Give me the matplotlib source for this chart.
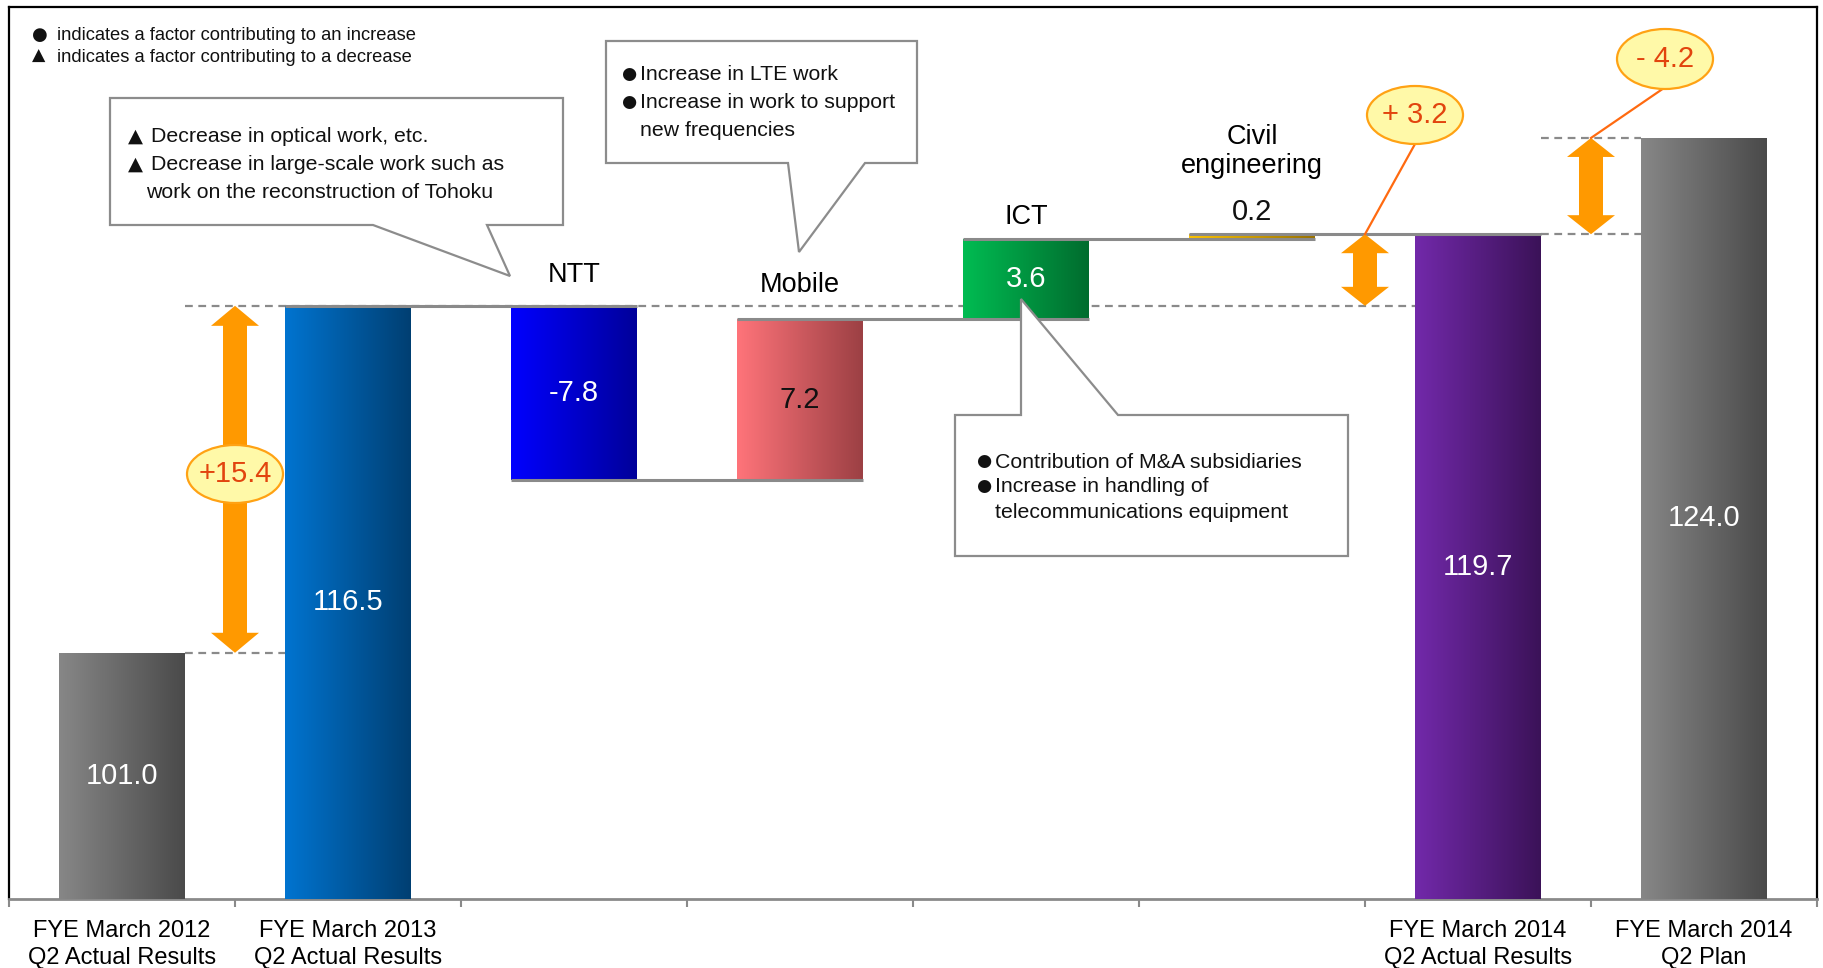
import numpy as np
import matplotlib
matplotlib.use("Agg")
import matplotlib.pyplot as plt
from matplotlib.patches import Polygon, Ellipse
from matplotlib.lines import Line2D
from matplotlib.colors import LinearSegmentedColormap

plt.rcParams['font.family'] = ['Liberation Sans', 'DejaVu Sans']

# ---------------- data ----------------
tick_labels = ["FYE March 2012\nQ2 Actual Results", "FYE March 2013\nQ2 Actual Results",
               "", "", "", "",
               "FYE March 2014\nQ2 Actual Results", "FYE March 2014\nQ2 Plan"]
segment_names = ["NTT", "Mobile", "ICT", "Civil\nengineering"]
start_total = 101.0
prior_total = 116.5
segment_changes = [-7.8, 7.2, 3.6, 0.2]
actual_total = 119.7
plan_total = 124.0
value_labels = ["101.0", "116.5", "-7.8", "7.2", "3.6", "0.2", "119.7", "124.0"]
diff_labels = ["+15.4", "+ 3.2", "- 4.2"]

bar_colors = [("#878787", "#4A4A4A"), ("#0074D0", "#003F72"), ("#0000FF", "#00009A"),
              ("#FF747A", "#9C4044"), ("#00BC52", "#006C2E"), ("#FFC400", "#9A7200"),
              ("#7229AA", "#3B1258"), ("#878787", "#4A4A4A")]
label_colors = ["white", "white", "white", "#111111", "white", "#111111", "white", "white"]

# ---------------- figure ----------------
W, H = 1823, 968
fig = plt.figure(figsize=(W / 100, H / 100), dpi=100)
AX_L, AX_R, AX_T, AX_B = 9, 1817, 7, 899
ax = fig.add_axes([AX_L / W, 1 - AX_B / H, (AX_R - AX_L) / W, (AX_B - AX_T) / H])
YMIN, YMAX = 90.0, 129.85
ax.set_xlim(-0.5, 7.5)
ax.set_ylim(YMIN, YMAX)
ppx = (AX_R - AX_L) / 8.0              # pixels per x unit
ppy = (AX_B - AX_T) / (YMAX - YMIN)    # pixels per y unit


def F(x, y):
    return (x / W, 1 - y / H)


def data_to_px(x, y):
    return (AX_L + (x + 0.5) * ppx, AX_B - (y - YMIN) * ppy)


# waterfall geometry (total bars start at the axis floor)
bottoms, heights = [YMIN, YMIN], [start_total - YMIN, prior_total - YMIN]
ends = [start_total, prior_total]
running = prior_total
for ch in segment_changes:
    bottoms.append(min(running, running + ch))
    heights.append(abs(ch))
    running += ch
    ends.append(running)
bottoms += [YMIN, YMIN]
heights += [actual_total - YMIN, plan_total - YMIN]
ends += [actual_total, plan_total]

xs = np.arange(8)
BW = 0.556
bars = ax.bar(xs, heights, bottom=bottoms, width=BW, color="none", linewidth=0, zorder=3)

grad = np.linspace(0, 1, 256).reshape(1, -1)
for b, (c0, c1) in zip(bars, bar_colors):
    cmap = LinearSegmentedColormap.from_list("g", [c0, c1])
    x0 = b.get_x()
    im = ax.imshow(grad, extent=[x0, x0 + b.get_width(), b.get_y(), b.get_y() + b.get_height()],
                   cmap=cmap, aspect="auto", zorder=3, interpolation="bilinear")
    im.set_clip_path(b)

ax.set_xlim(-0.5, 7.5)
ax.set_ylim(YMIN, YMAX)

gray = "#8A8A8A"
# dashed reference lines (behind bars)
dash_kw = dict(color=gray, lw=1.6, ls=(0, (3.5, 2.5)), zorder=2)
ax.plot([0 + BW / 2, 1 - BW / 2], [start_total] * 2, **dash_kw)
ax.plot([0 + BW / 2, 6 - BW / 2], [prior_total] * 2, **dash_kw)
ax.plot([6 + BW / 2, 7 - BW / 2], [actual_total] * 2, **dash_kw)
ax.plot([6 + BW / 2, 7 - BW / 2], [plan_total] * 2, **dash_kw)

# solid connector lines (on top of bars)
for i in range(1, 6):
    ax.plot([i - BW / 2, i + 1 + BW / 2], [ends[i]] * 2, color=gray, lw=2.2, zorder=4,
            solid_capstyle="butt")

# value labels
VFS = 21
for i, (b, lab, col) in enumerate(zip(bars, value_labels, label_colors)):
    top = b.get_y() + b.get_height()
    if i == 5:
        ax.annotate(lab, (i, top), xytext=(0, 22), textcoords="offset pixels",
                    ha="center", va="center", fontsize=VFS, color=col, zorder=6)
    else:
        yc = (b.get_y() + top) / 2
        ax.text(i, yc, lab, ha="center", va="center", fontsize=VFS, color=col, zorder=6)

# segment names above the bars
name_offsets = [31, 34, 21.5, 83]
for k, (nm, off) in enumerate(zip(segment_names, name_offsets)):
    i = k + 2
    top = bars[i].get_y() + bars[i].get_height()
    ax.annotate(nm, (i, top), xytext=(0, off), textcoords="offset pixels",
                ha="center", va="center", fontsize=19.5, color="black", zorder=6,
                linespacing=1.15)


# double-headed orange arrows
def dbl_arrow(xc, y0, y1, hw=24, sw=12, hl=20):
    hwx, swx, hly = hw / ppx, sw / ppx, hl / ppy
    pts = [(xc, y1), (xc + hwx, y1 - hly), (xc + swx, y1 - hly), (xc + swx, y0 + hly),
           (xc + hwx, y0 + hly), (xc, y0), (xc - hwx, y0 + hly), (xc - swx, y0 + hly),
           (xc - swx, y1 - hly), (xc - hwx, y1 - hly)]
    ax.add_patch(Polygon(pts, closed=True, facecolor="#FF9900", edgecolor="none", zorder=5))


dbl_arrow(0.5, start_total, prior_total)
dbl_arrow(5.5, prior_total, actual_total, hl=19)
dbl_arrow(6.5, actual_total, plan_total, hl=19)

# bubbles
bubble_fill, bubble_edge, bubble_text = "#FFF9A8", "#FFA214", "#E2440E"


def bubble(cx, cy, w, h, txt):
    fig.add_artist(Ellipse(F(cx, cy), w / W, h / H, transform=fig.transFigure,
                           facecolor=bubble_fill, edgecolor=bubble_edge, lw=1.6, zorder=8))
    fig.text(*F(cx, cy), txt, ha="center", va="center", fontsize=21,
             color=bubble_text, zorder=9)


ax15 = data_to_px(0.5, (start_total + prior_total) / 2)
bubble(ax15[0], 474, 96, 58, diff_labels[0])

p32 = data_to_px(5.5, actual_total)
fig.add_artist(Line2D([1415 / W, p32[0] / W], [1 - 144 / H, 1 - p32[1] / H],
                      transform=fig.transFigure, color="#FF6A10", lw=1.6, zorder=7))
bubble(1415, 115, 96, 58, diff_labels[1])

p42 = data_to_px(6.5, plan_total)
fig.add_artist(Line2D([1664 / W, p42[0] / W], [1 - 88 / H, 1 - p42[1] / H],
                      transform=fig.transFigure, color="#FF6A10", lw=1.6, zorder=7))
bubble(1665, 59, 96, 60, diff_labels[2])


# callout boxes
def callout(pts):
    fig.add_artist(Polygon([F(*p) for p in pts], closed=True, transform=fig.transFigure,
                           facecolor="white", edgecolor="#8C8C8C", lw=1.6, zorder=7))


callout([(110, 98), (563, 98), (563, 225), (487, 225), (510, 276), (373, 225), (110, 225)])
callout([(606, 41), (917, 41), (917, 163), (865, 163), (799, 252), (788, 163), (606, 163)])
callout([(955, 415), (1021, 415), (1021, 299), (1118, 415), (1348, 415), (1348, 556), (955, 556)])

CFS = 15.3


def ftext(x, y, s, fs=CFS, family=None, **kw):
    kw2 = {}
    if family:
        kw2["family"] = family
    fig.text(*F(x, y), s, ha="left", va="center", fontsize=fs, color="#111111",
             zorder=9, **kw2, **kw)


def mark(x, y, s, fs):
    ftext(x, y, s, fs=fs, family=["DejaVu Sans"])


# NTT callout text
mark(128, 136, "\u25B2", 14)
ftext(151, 137, "Decrease in optical work, etc.")
mark(128, 164, "\u25B2", 14)
ftext(151, 165, "Decrease in large-scale work such as")
ftext(146, 193, "work on the reconstruction of Tohoku")

# Mobile callout text
mark(621, 74, "\u25CF", 12.5)
ftext(640, 75, "Increase in LTE work")
mark(621, 102, "\u25CF", 12.5)
ftext(640, 103, "Increase in work to support")
ftext(640, 130, "new frequencies")

# ICT callout text
mark(976, 461, "\u25CF", 12.5)
ftext(995, 462, "Contribution of M&A subsidiaries")
mark(976, 486, "\u25CF", 12.5)
ftext(995, 487, "Increase in handling of")
ftext(995, 513, "telecommunications equipment")

# legend note
mark(32, 35, "\u25CF", 13)
ftext(57, 36, "indicates a factor contributing to an increase", fs=13.2)
mark(32, 56, "\u25B2", 12.5)
ftext(57, 57, "indicates a factor contributing to a decrease", fs=13.2)

# axes styling
ax.set_xticks(np.arange(-0.5, 8.0, 1.0))
ax.set_xticklabels([])
ax.set_xticks(xs, minor=True)
ax.set_xticklabels(tick_labels, minor=True, fontsize=17, linespacing=1.32)
ax.tick_params(axis="x", which="major", length=6, width=1.5, color=gray, direction="out")
ax.tick_params(axis="x", which="minor", length=0, pad=15)
ax.set_yticks([])
for s in ["top", "left", "right"]:
    ax.spines[s].set_color("black")
    ax.spines[s].set_linewidth(1.6)
ax.spines["bottom"].set_color(gray)
ax.spines["bottom"].set_linewidth(2.0)

fig.savefig("out.png", dpi=100)
